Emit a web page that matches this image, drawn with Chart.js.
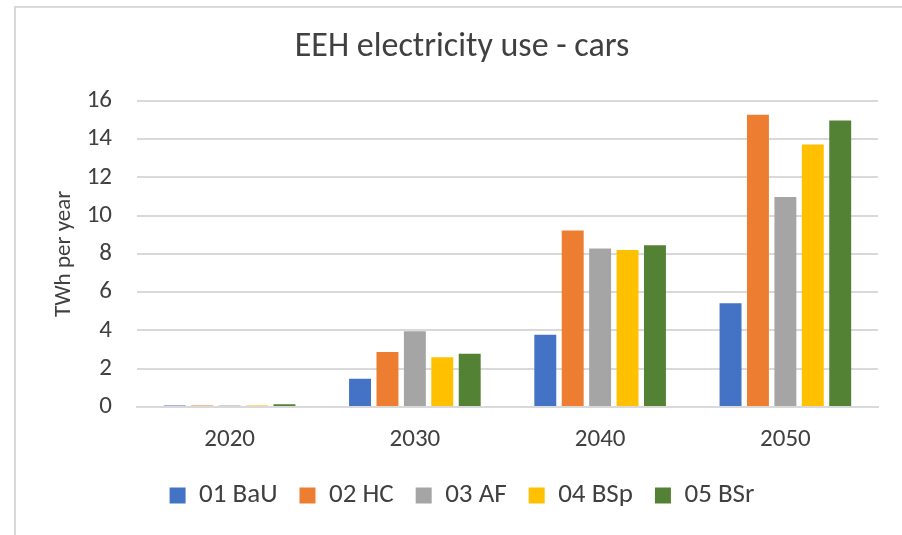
<!DOCTYPE html>
<html lang="en">
  <head>
    <meta charset="utf-8" />
    <title>EEH electricity use - cars</title>
    <style>
      html, body {
        margin: 0;
        padding: 0;
        background: #ffffff;
        overflow: hidden;
      }
      .frame {
        position: absolute;
        left: 14px;
        top: 6px;
        width: 900px;
        height: 540px;
        border-top: 2px solid #d9d9d9;
        border-left: 2px solid #d9d9d9;
      }
      .chartBox {
        position: absolute;
        left: 0;
        top: 0;
        width: 902px;
        height: 535px;
      }
    </style>
  </head>
  <body>
    <div class="frame"></div>
    <div class="chartBox">
      <canvas id="myChart" width="902" height="535"></canvas>
    </div>

    <script src="https://cdn.jsdelivr.net/npm/chart.js/dist/chart.umd.min.js"></script>
    <script>
      // data
      const years = ["2020", "2030", "2040", "2050"];
      const seriesNames = ["01 BaU", "02 HC", "03 AF", "04 BSp", "05 BSr"];
      const bau = [0.08, 1.48, 3.78, 5.42];
      const hc = [0.08, 2.87, 9.22, 15.27];
      const af = [0.08, 3.96, 8.28, 10.97];
      const bsp = [0.08, 2.6, 8.2, 13.72];
      const bsr = [0.14, 2.78, 8.45, 14.97];
      const colors = ["#4472C4", "#ED7D31", "#A5A5A5", "#FFC000", "#548235"];

      const textColor = "#404040";
      const fontFamily = "Carlito, 'Open Sans', sans-serif";

      const data = {
        labels: years,
        datasets: [bau, hc, af, bsp, bsr].map((vals, i) => ({
          label: seriesNames[i],
          data: vals,
          backgroundColor: colors[i],
          borderWidth: 0,
          categoryPercentage: 0.74,
          barPercentage: 0.8,
        })),
      };

      const config = {
        type: "bar",
        data,
        options: {
          responsive: false,
          animation: false,
          layout: {
            padding: { left: 46, right: 24, top: 0, bottom: 16 },
          },
          scales: {
            x: {
              grid: { display: false, drawTicks: false },
              border: { color: "#d9d9d9", width: 2 },
              ticks: {
                color: textColor,
                font: { size: 25, family: fontFamily },
                padding: 18,
              },
              afterFit: (scale) => {
                scale.height = 53;
              },
            },
            y: {
              min: 0,
              max: 16,
              ticks: {
                stepSize: 2,
                color: textColor,
                font: { size: 25, family: fontFamily },
                padding: 25,
              },
              grid: {
                color: "#d9d9d9",
                lineWidth: 2,
                drawTicks: false,
              },
              border: { display: false },
              title: {
                display: true,
                text: "TWh per year",
                color: textColor,
                font: { size: 23, family: fontFamily },
              },
              afterFit: (scale) => {
                scale.width = 91;
              },
            },
          },
          plugins: {
            title: {
              display: true,
              text: "EEH electricity use - cars",
              color: textColor,
              font: { size: 34, family: fontFamily, weight: "normal" },
              padding: { top: 27, bottom: 33 },
            },
            legend: {
              position: "bottom",
              labels: {
                color: textColor,
                font: { size: 27, family: fontFamily },
                boxWidth: 16,
                boxHeight: 16,
                padding: 22,
              },
            },
            tooltip: { enabled: false },
          },
        },
      };

      const myChart = new Chart(document.getElementById("myChart"), config);
    </script>
  </body>
</html>
